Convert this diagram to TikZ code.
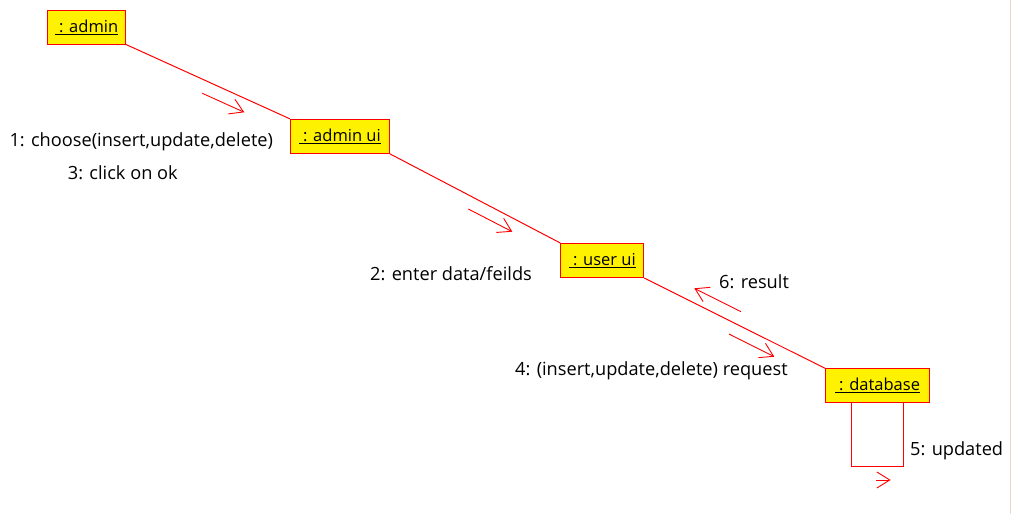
\documentclass[tikz,border=0pt]{standalone}
\usepackage{fontspec}
\setmainfont{Open Sans}
\usetikzlibrary{arrows.meta}
\tikzset{>={Straight Barb[length=13pt,width=16pt]}}
\tikzset{
    obj/.style={draw=red, fill=yellow, line width=1pt, inner sep=0pt, minimum height=34pt, font=\fontsize{16.5}{19}\selectfont},
    link/.style={draw=red, line width=1pt},
    msg/.style={draw=red, line width=0.9pt, ->},
    lbl/.style={anchor=base west, inner sep=0pt, font=\fontsize{18.2}{22}\selectfont}
}

\begin{document}
\begin{tikzpicture}[x=1pt, y=-1pt]
    \useasboundingbox (0,0) rectangle (1013,514);

    \draw [line width=1.5pt, black!20!brown!25] (1010.5,0) -- (1010.5,514);

    \node[obj, minimum width=78pt]  (admin)    at (86.5,27)    {\underline{~: admin}};
    \node[obj, minimum width=99pt]  (adminui)  at (339.8,136.3) {\underline{~: admin ui}};
    \node[obj, minimum width=83pt]  (userui)   at (602.3,260.5) {\underline{~: user ui}};
    \node[obj, minimum width=104pt] (database) at (877.5,385.8) {\underline{~: database}};

    \draw[link] (admin.south east) -- (adminui.north west);
    \draw[link] (adminui.south east) -- (userui.north west);
    \draw[link] (userui.south east) -- (database.north west);

    % self call on database
    \coordinate (selfa) at (851.5,403.3);
    \coordinate (selfb) at (851.5,466.5);
    \coordinate (selfc) at (903.5,466.5);
    \coordinate (selfd) at (903.5,403.3);
    \draw[link, line width=1.1pt] (selfa) -- (selfb) -- (selfc) -- (selfd);

    \coordinate (m1a) at (202.3,93.3);  \coordinate (m1b) at (244.3,112.3);
    \coordinate (m2a) at (468.3,209);   \coordinate (m2b) at (512.3,231.7);
    \coordinate (m4a) at (729,334);     \coordinate (m4b) at (774.3,356.7);
    \coordinate (m6a) at (741,311.7);   \coordinate (m6b) at (694.3,288.3);
    \coordinate (m5a) at (876,480);     \coordinate (m5b) at (890.7,480);

    \draw[msg] (m1a) -- (m1b);
    \draw[msg] (m2a) -- (m2b);
    \draw[msg] (m4a) -- (m4b);
    \draw[msg] (m6a) -- (m6b);
    \draw[msg] (m5a) -- (m5b);

    \node[lbl] (l1) at (9.3,146.7)  {1: choose(insert,update,delete)};
    \node[lbl] (l3) at (67.7,179.3) {3: click on ok};
    \node[lbl] (l2) at (370,280)    {2: enter data/feilds};
    \node[lbl] (l6) at (719,288.3)  {6: result};
    \node[lbl] (l4) at (515,375.7)  {4: (insert,update,delete) request};
    \node[lbl] (l5) at (910,455)    {5: updated};
\end{tikzpicture}
\end{document}
